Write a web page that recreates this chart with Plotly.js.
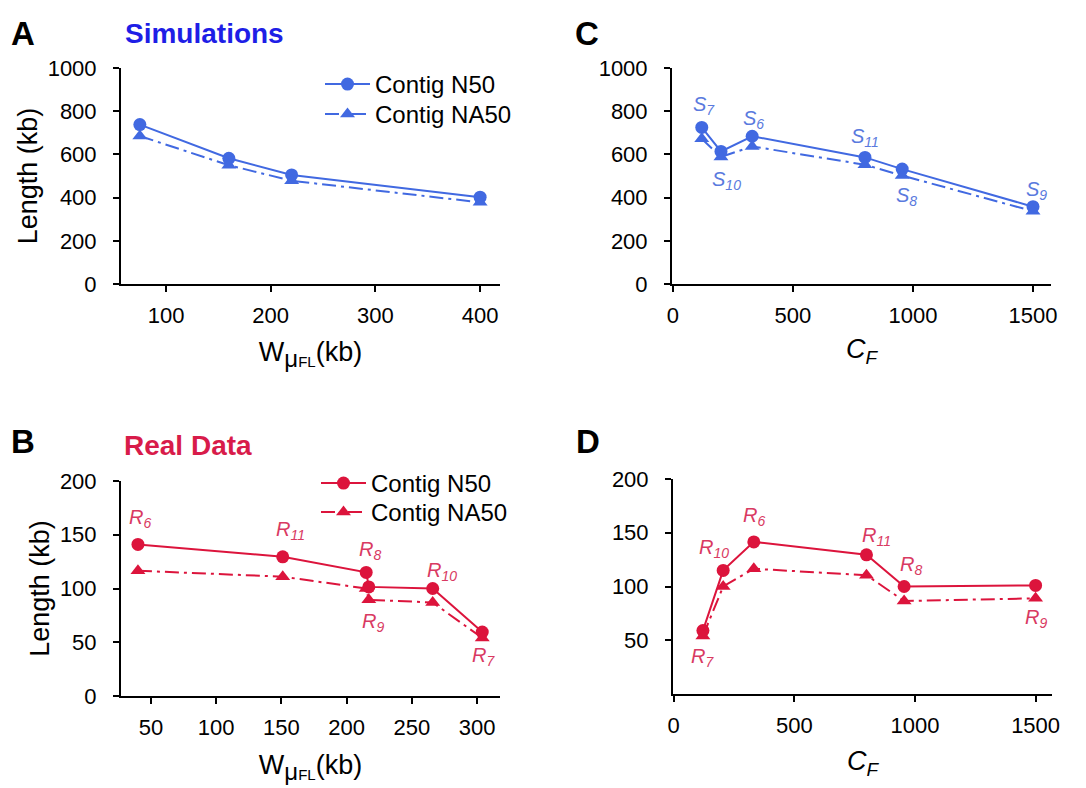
<!DOCTYPE html>
<html><head><meta charset="utf-8">
<script src="https://cdn.plot.ly/plotly-3.0.1.min.js"></script>
<style>html,body{margin:0;padding:0;background:#fff}#chart{width:1086px;height:788px}</style>
</head><body><div id="chart"></div>
<script>
// ---------- DATA ----------
// Panel A: simulations vs W_muFL (kb)
const simW = [75, 160, 220, 400];
const simW_N50 = [738, 582, 505, 402];
const simW_NA50 = [685, 550, 478, 378];
// Panel C: simulations vs C_F
const simCFLabels = ['7', '10', '6', '11', '8', '9'];
const simCF = [120, 200, 330, 800, 955, 1500];
const simCF_N50 = [725, 614, 684, 586, 532, 358];
const simCF_NA50 = [672, 588, 637, 552, 502, 337];
// Panel B: real data vs W_muFL (kb)
const realWLabels = ['6', '11', '8', '9', '10', '7'];
const realW = [40, 151, 215, 217, 266, 304];
const realW_N50 = [141, 129.5, 115, 101.5, 100, 59.5];
const realW_NA50 = [116.5, 111, 100, 89.5, 87, 54];
// Panel D: real data vs C_F
const realCFLabels = ['7', '10', '6', '11', '8', '9'];
const realCF = [121, 205, 332, 799, 955, 1500];
const realCF_N50 = [59, 115, 141.5, 129.5, 100, 101];
const realCF_NA50 = [54, 100, 116.5, 110.5, 86.5, 89];
// tick labels
const simYTicks = [0, 200, 400, 600, 800, 1000];
const realYTicksB = [0, 50, 100, 150, 200];
const realYTicksD = [50, 100, 150, 200];
const wTicksA = [100, 200, 300, 400];
const wTicksB = [50, 100, 150, 200, 250, 300];
const cfTicks = [0, 500, 1000, 1500];

// ---------- STYLE ----------
const W = 1086, H = 788;
const BLUE = '#4169e1', RED = '#dc143c';
const LBL_BLUE = '#5a7ade', LBL_RED = '#d93a62';
const FONT = 'Liberation Sans, Arial, sans-serif';
const DASHDOT = '14px,5px,3px,5px';
const px = x => x / W, py = y => 1 - y / H;

// label placement: [anchor series ('n' = N50, 'a' = NA50), xshift, yshift]
const simCFPlace = [['n', 2, 22], ['a', 6, -24], ['n', 1, 17], ['n', 0, 20], ['a', 4, -21], ['n', 3, 16]];
const realWPlace = [['n', 2, 26], ['n', 8, 26], ['n', 4, 22], ['a', 4, -23], ['n', 9, 17], ['a', 1, -19]];
const realCFPlace = [['a', 0, -22], ['n', -9, 22], ['n', 0, 25], ['n', 10, 18], ['n', 7, 21], ['a', 0, -20]];

function pair(x, yN, yA, color, ax, legN, legA) {
  const common = {x: x, mode: 'lines+markers', xaxis: 'x' + ax, yaxis: 'y' + ax,
    cliponaxis: false, hoverinfo: 'x+y'};
  return [
    Object.assign({}, common, {y: yN, name: 'Contig N50', legend: legN || 'legend', showlegend: !!legN,
      line: {color: color, width: 2}, marker: {symbol: 'circle', size: 13, color: color}}),
    Object.assign({}, common, {y: yA, name: 'Contig NA50', legend: legA || 'legend', showlegend: !!legA,
      line: {color: color, width: 2, dash: DASHDOT}, marker: {symbol: 'triangle-up', size: 13, color: color}})
  ];
}

const data = [].concat(
  pair(simW, simW_N50, simW_NA50, BLUE, '', 'legend', 'legend2'),
  pair(simCF, simCF_N50, simCF_NA50, BLUE, '2', null, null),
  pair(realW, realW_N50, realW_NA50, RED, '3', 'legend3', 'legend4'),
  pair(realCF, realCF_N50, realCF_NA50, RED, '4', null, null)
);

const axisBase = {showline: true, linecolor: '#000', linewidth: 2, ticks: 'outside', ticklen: 6,
  tickwidth: 2, tickcolor: '#000', showgrid: false, zeroline: false, fixedrange: true,
  tickfont: {size: 22, color: '#000', family: FONT}, tickmode: 'array'};
const xax = o => Object.assign({}, axisBase, {ticklabelstandoff: 5}, o);
const yax = o => Object.assign({}, axisBase, {ticklabelstandoff: 12}, o);

const wTitle = 'W<sub><span style="font-size:24px">μ</span></sub><sub><span style="font-size:15px">FL</span></sub>(kb)';
const cfTitle = '<i>C</i><sub><i>F</i></sub>';
const titleFont = {size: 27, family: FONT, color: '#000'};
const yTitle = {text: 'Length (kb)', font: titleFont, standoff: 2};

function labelAnns(prefix, xs, yN, yA, labels, place, axn, color) {
  return labels.map((l, i) => ({
    text: '<i>' + prefix + '<sub>' + l + '</sub></i>',
    x: xs[i], y: place[i][0] === 'n' ? yN[i] : yA[i],
    xref: 'x' + axn, yref: 'y' + axn, showarrow: false,
    xshift: place[i][1], yshift: place[i][2],
    font: {size: 20, color: color, family: FONT}
  }));
}

const headAnn = (text, x, y, size, color) => ({text: text, x: px(x), y: py(y), xref: 'paper', yref: 'paper',
  showarrow: false, xanchor: 'center', yanchor: 'middle', font: {size: size, color: color, family: FONT}});

const annotations = [].concat(
  labelAnns('S', simCF, simCF_N50, simCF_NA50, simCFLabels, simCFPlace, '2', LBL_BLUE),
  labelAnns('R', realW, realW_N50, realW_NA50, realWLabels, realWPlace, '3', LBL_RED),
  labelAnns('R', realCF, realCF_N50, realCF_NA50, realCFLabels, realCFPlace, '4', LBL_RED),
  [
    headAnn('<b>A</b>', 23, 33, 33, '#000'),
    headAnn('<b>Simulations</b>', 204, 33, 28, '#1e1ee6'),
    headAnn('<b>C</b>', 587, 33, 33, '#000'),
    headAnn('<b>B</b>', 23, 442, 33, '#000'),
    headAnn('<b>Real Data</b>', 188, 445, 28, '#d81b4a'),
    headAnn('<b>D</b>', 588, 442, 33, '#000')
  ]
);

const legendBase = {xanchor: 'left', yanchor: 'top', bgcolor: 'rgba(0,0,0,0)', borderwidth: 0, itemwidth: 45,
  font: {size: 24, color: '#000', family: FONT}, tracegroupgap: 0, itemclick: false, itemdoubleclick: false};
const leg = (x, y) => Object.assign({}, legendBase, {x: px(x), y: py(y)});

const layout = {
  width: W, height: H, margin: {l: 0, r: 0, t: 0, b: 0},
  paper_bgcolor: '#fff', plot_bgcolor: 'rgba(0,0,0,0)',
  font: {family: FONT, color: '#000'},
  showlegend: true,
  legend: leg(320, 62),
  legend2: leg(320, 92),
  legend3: leg(316, 461),
  legend4: leg(316, 490),
  xaxis: xax({domain: [px(121), px(500)], range: [57, 419], tickvals: wTicksA, anchor: 'y',
    title: {text: wTitle, font: titleFont, standoff: 15}}),
  yaxis: yax({domain: [py(284), py(68)], range: [0, 1000], tickvals: simYTicks, anchor: 'x', title: yTitle}),
  xaxis2: xax({domain: [px(672), px(1051)], range: [-4, 1575], tickvals: cfTicks, anchor: 'y2',
    title: {text: cfTitle, font: titleFont, standoff: 12}}),
  yaxis2: yax({domain: [py(284), py(68)], range: [0, 1000], tickvals: simYTicks, anchor: 'x2'}),
  xaxis3: xax({domain: [px(121), px(500)], range: [27, 317.6], tickvals: wTicksB, anchor: 'y3',
    title: {text: wTitle, font: titleFont, standoff: 16}}),
  yaxis3: yax({domain: [py(696), py(481)], range: [0, 200], tickvals: realYTicksB, anchor: 'x3', title: yTitle}),
  xaxis4: xax({domain: [px(673), px(1052)], range: [-3, 1568], tickvals: cfTicks, anchor: 'y4',
    title: {text: cfTitle, font: titleFont, standoff: 14}}),
  yaxis4: yax({domain: [py(694), py(479)], range: [0, 200], tickvals: realYTicksD, anchor: 'x4'}),
  annotations: annotations
};

Plotly.newPlot('chart', data, layout, {staticPlot: true, displayModeBar: false});
</script>
</body></html>
